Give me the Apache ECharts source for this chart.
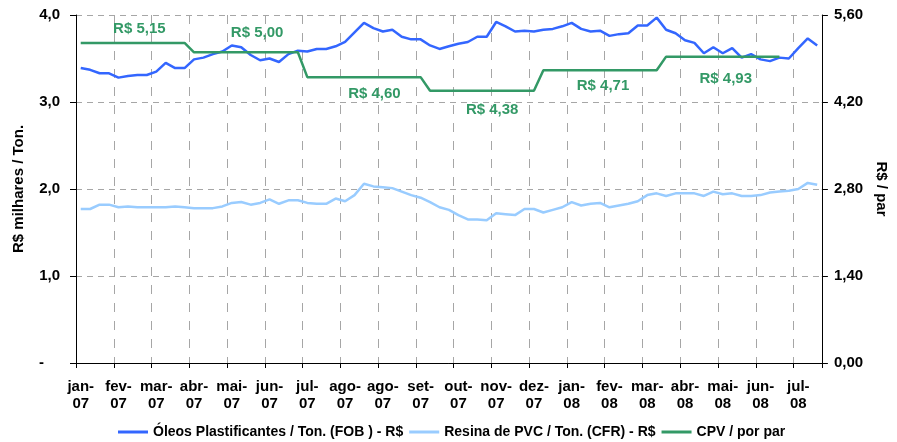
<!DOCTYPE html>
<html>
<head>
<meta charset="utf-8">
<script src="https://cdn.jsdelivr.net/npm/echarts@6/dist/echarts.min.js"></script>
<style>
  html, body { margin: 0; padding: 0; background: #fff; }
  #chart { width: 897px; height: 442px; }
</style>
</head>
<body>
<div id="chart"></div>
<script>
// rótulos do eixo X (a cada 4 semanas)
const tickLabels = ['jan-07', 'fev-07', 'mar-07', 'abr-07', 'mai-07', 'jun-07', 'jul-07', 'ago-07', 'ago-07', 'set-07',
  'out-07', 'nov-07', 'dez-07', 'jan-08', 'fev-08', 'mar-08', 'abr-08', 'mai-08', 'jun-08', 'jul-08']

// Óleos Plastificantes / Ton. (FOB) - R$ mil, semanal
const oleos = [3.39, 3.37, 3.33, 3.33, 3.28, 3.30, 3.31, 3.31, 3.35, 3.45,
  3.39, 3.39, 3.49, 3.51, 3.55, 3.58, 3.65, 3.63, 3.54, 3.48,
  3.50, 3.46, 3.55, 3.59, 3.58, 3.61, 3.61, 3.64, 3.69, 3.80,
  3.91, 3.85, 3.81, 3.83, 3.75, 3.72, 3.72, 3.65, 3.61, 3.64,
  3.67, 3.69, 3.75, 3.75, 3.92, 3.87, 3.81, 3.82, 3.81, 3.83,
  3.84, 3.87, 3.91, 3.84, 3.81, 3.82, 3.76, 3.78, 3.79, 3.88,
  3.88, 3.97, 3.83, 3.79, 3.71, 3.68, 3.56, 3.63, 3.56, 3.62,
  3.51, 3.55, 3.49, 3.47, 3.51, 3.50, 3.62, 3.73, 3.65]

// Resina de PVC / Ton. (CFR) - R$ mil, semanal
const resina = [1.77, 1.77, 1.82, 1.82, 1.79, 1.80, 1.79, 1.79, 1.79, 1.79,
  1.80, 1.79, 1.78, 1.78, 1.78, 1.80, 1.84, 1.85, 1.82, 1.84,
  1.88, 1.83, 1.87, 1.87, 1.84, 1.83, 1.83, 1.89, 1.86, 1.93,
  2.06, 2.03, 2.02, 2.01, 1.97, 1.93, 1.90, 1.85, 1.79, 1.76,
  1.70, 1.65, 1.65, 1.64, 1.72, 1.71, 1.70, 1.77, 1.77, 1.73,
  1.76, 1.79, 1.85, 1.81, 1.83, 1.84, 1.79, 1.81, 1.83, 1.86,
  1.93, 1.95, 1.92, 1.95, 1.95, 1.95, 1.92, 1.97, 1.94, 1.95,
  1.92, 1.92, 1.93, 1.96, 1.97, 1.98, 2.00, 2.07, 2.05]

// CPV / por par - R$ (eixo direito)
const cpv = [5.15, 5.15, 5.15, 5.15, 5.15, 5.15, 5.15, 5.15, 5.15, 5.15,
  5.15, 5.15, 5.00, 5.00, 5.00, 5.00, 5.00, 5.00, 5.00, 5.00,
  5.00, 5.00, 5.00, 5.00, 4.60, 4.60, 4.60, 4.60, 4.60, 4.60,
  4.60, 4.60, 4.60, 4.60, 4.60, 4.60, 4.60, 4.38, 4.38, 4.38,
  4.38, 4.38, 4.38, 4.38, 4.38, 4.38, 4.38, 4.38, 4.38, 4.71,
  4.71, 4.71, 4.71, 4.71, 4.71, 4.71, 4.71, 4.71, 4.71, 4.71,
  4.71, 4.71, 4.93, 4.93, 4.93, 4.93, 4.93, 4.93, 4.93, 4.93,
  4.93, 4.93, 4.93, 4.93, 4.93, null, null, null, null]

// pontos onde aparecem os rótulos do CPV
const cpvLabelIdx = [6, 19, 31, 44, 55, 68]
const cpvLabelOffset = [[2, -14], [-3, -19], [1, 17], [-4, 19], [3, 16], [3, 22]]

const weeks = oleos.map((_, i) => 'w' + i)

const fmtComma = (v, d) => v.toFixed(d).replace('.', ',')
const FONT = 'Liberation Sans, Arial, sans-serif'

const chart = echarts.init(document.getElementById('chart'))

const option = {
  animation: false,
  backgroundColor: '#fff',
  textStyle: { fontFamily: FONT },
  grid: { left: 76, right: 64, top: 15, bottom: 79, containLabel: false },
  legend: {
    left: 118,
    top: 425,
    padding: 0,
    icon: 'rect',
    itemWidth: 30,
    itemHeight: 3,
    itemGap: 6,
    textStyle: { fontFamily: FONT, fontSize: 14, fontWeight: 'bold', color: '#000' },
    data: ['Óleos Plastificantes / Ton. (FOB ) - R$', 'Resina de PVC / Ton. (CFR) - R$', 'CPV / por par'],
  },
  xAxis: {
    type: 'category',
    data: weeks,
    boundaryGap: true,
    axisLine: { lineStyle: { color: '#000', width: 1 } },
    axisTick: { show: true, interval: 3, length: 5, lineStyle: { color: '#000' } },
    axisLabel: {
      interval: 3,
      margin: 15,
      fontFamily: FONT,
      fontSize: 15,
      fontWeight: 'bold',
      color: '#000',
      lineHeight: 17,
      formatter: (v, i) => {
        const t = tickLabels[Math.round(i / 4)] || ''
        return t.replace('-', '-\n')
      },
    },
    splitLine: { show: true, interval: 3, lineStyle: { color: '#a6a6a6', width: 1, type: [9, 9] } },
  },
  yAxis: [
    {
      type: 'value',
      min: 0,
      max: 4,
      interval: 1,
      name: 'R$ milhares / Ton.',
      nameLocation: 'middle',
      nameGap: 50,
      nameTextStyle: { fontFamily: FONT, fontSize: 15, fontWeight: 'bold', color: '#000' },
      axisLine: { show: true, lineStyle: { color: '#000', width: 1 } },
      axisTick: { show: true, length: 6, lineStyle: { color: '#000' } },
      axisLabel: {
        margin: 16,
        fontFamily: FONT,
        fontSize: 15,
        fontWeight: 'bold',
        color: '#000',
        formatter: v => (v === 0 ? '{d|-}' : fmtComma(v, 1)),
        rich: { d: { fontFamily: FONT, fontSize: 15, fontWeight: 'bold', color: '#000', padding: [0, 16, 0, 0] } },
      },
      splitLine: { show: true, lineStyle: { color: '#a6a6a6', width: 1, type: [6, 5] } },
    },
    {
      type: 'value',
      min: 0,
      max: 5.6,
      interval: 1.4,
      position: 'right',
      name: 'R$ / par',
      nameLocation: 'middle',
      nameRotate: -90,
      nameGap: 47,
      nameTextStyle: { fontFamily: FONT, fontSize: 15, fontWeight: 'bold', color: '#000' },
      axisLine: { show: true, lineStyle: { color: '#000', width: 1 } },
      axisTick: { show: true, length: 6, lineStyle: { color: '#000' } },
      axisLabel: {
        margin: 12,
        fontFamily: FONT,
        fontSize: 15,
        fontWeight: 'bold',
        color: '#000',
        formatter: v => fmtComma(v, 2),
      },
      splitLine: { show: false },
    },
  ],
  series: [
    {
      name: 'Óleos Plastificantes / Ton. (FOB ) - R$',
      type: 'line',
      yAxisIndex: 0,
      data: oleos,
      symbol: 'none',
      lineStyle: { color: '#3366ff', width: 2.5 },
      itemStyle: { color: '#3366ff' },
    },
    {
      name: 'Resina de PVC / Ton. (CFR) - R$',
      type: 'line',
      yAxisIndex: 0,
      data: resina,
      symbol: 'none',
      lineStyle: { color: '#99ccff', width: 2.5 },
      itemStyle: { color: '#99ccff' },
    },
    {
      name: 'CPV / por par',
      type: 'line',
      yAxisIndex: 1,
      data: cpv,
      symbol: 'none',
      connectNulls: false,
      lineStyle: { color: '#339966', width: 2.5 },
      itemStyle: { color: '#339966' },
      markPoint: {
        symbol: 'circle',
        symbolSize: 1,
        itemStyle: { color: 'rgba(0,0,0,0)' },
        data: cpvLabelIdx.map((idx, k) => ({
          coord: [idx, cpv[idx]],
          value: cpv[idx],
          label: {
            show: true,
            position: 'inside',
            offset: cpvLabelOffset[k],
            formatter: 'R$ ' + fmtComma(cpv[idx], 2),
            fontFamily: FONT,
            fontSize: 15,
            fontWeight: 'bold',
            color: '#339966',
          },
        })),
      },
    },
  ],
}

chart.setOption(option)
</script>
</body>
</html>
